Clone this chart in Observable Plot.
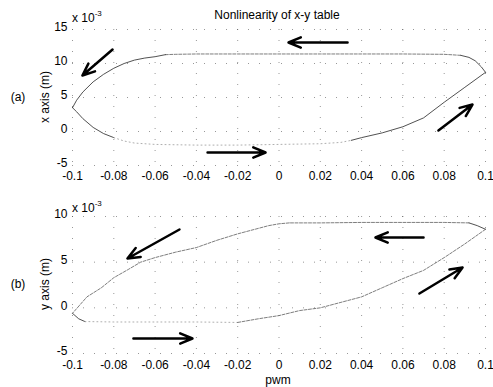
<!DOCTYPE html>
<html><head><meta charset="utf-8">
<script src="https://cdn.jsdelivr.net/npm/d3@7"></script>
<script src="https://cdn.jsdelivr.net/npm/@observablehq/plot@0.6"></script>
<style>
body{margin:0;background:#fff;}
#wrap{position:relative;width:493px;height:387px;overflow:hidden;font-family:"Liberation Sans",Arial,sans-serif;}
#wrap svg{position:absolute;left:0;}
</style></head><body><div id="wrap"></div>
<script>
// ---- ticks ----
const xTicks = [-0.1,-0.08,-0.06,-0.04,-0.02,0,0.02,0.04,0.06,0.08,0.1];
const xTickLabels = ["-0.1","-0.08","-0.06","-0.04","-0.02","0","0.02","0.04","0.06","0.08","0.1"];
const topYTicks = [-5,0,5,10,15];
const botYTicks = [-5,0,5,10];

// ---- panel (a): x axis (units of 1e-3 m) ----
const topUpperRight = [[0.1,8.7],[0.098,9.5],[0.095,10.4],[0.092,10.9],[0.088,11.2]];
const topUpperFlat  = [[0.088,11.2],[0.08,11.35],[0.06,11.4],[0.04,11.4],[0.02,11.4],[0,11.4],[-0.02,11.4],[-0.04,11.4],[-0.05,11.35],[-0.055,11.3]];
const topUpperLeft  = [[-0.055,11.3],[-0.06,11.0],[-0.065,10.8],[-0.07,10.5],[-0.075,10.0],[-0.08,9.3],[-0.085,8.4],[-0.09,7.3],[-0.095,5.8],[-0.098,4.6],[-0.1,3.5]];
const topLowerLeft  = [[-0.1,3.5],[-0.098,2.9],[-0.095,1.9],[-0.09,0.6],[-0.085,-0.3],[-0.08,-0.9]];
const topLowerMid   = [[-0.08,-0.9],[-0.075,-1.4],[-0.07,-1.7],[-0.06,-1.9],[-0.04,-2.0],[-0.02,-2.0],[0,-1.9],[0.02,-1.8],[0.03,-1.6],[0.035,-1.3]];
const topLowerRight = [[0.035,-1.3],[0.04,-0.9],[0.05,-0.2],[0.06,0.7],[0.07,2.0],[0.08,4.3],[0.09,6.5],[0.1,8.7]];
const topArrows = [
  [-0.0806,12.06,-0.0952,8.24],
  [0.0332,13.09,0.0046,13.09],
  [-0.0346,-3.09,-0.0065,-3.09],
  [0.0772,0.15,0.0937,3.97]
];

// ---- panel (b): y axis (units of 1e-3 m) ----
const botUpperRight = [[0.1,8.6],[0.096,9.0],[0.092,9.3]];
const botUpperFlat  = [[0.092,9.3],[0.08,9.35],[0.06,9.35],[0.04,9.35],[0.02,9.3],[0.005,9.3]];
const botUpperLeft  = [[0.005,9.3],[0,9.2],[-0.005,9.0],[-0.01,8.7],[-0.02,8.1],[-0.03,7.4],[-0.04,6.6],[-0.05,6.1],[-0.06,5.5],[-0.067,5.0],[-0.073,4.2],[-0.08,3.3],[-0.086,2.2],[-0.093,1.2],[-0.1,-0.6]];
const botLowerLeft  = [[-0.1,-0.6],[-0.097,-1.2],[-0.094,-1.5]];
const botLowerFlat  = [[-0.094,-1.5],[-0.08,-1.55],[-0.06,-1.55],[-0.04,-1.55],[-0.02,-1.6]];
const botLowerRight = [[-0.02,-1.6],[-0.01,-1.2],[0,-0.85],[0.01,-0.3],[0.02,0.0],[0.03,0.6],[0.04,1.2],[0.05,2.2],[0.06,3.2],[0.07,4.1],[0.08,5.5],[0.09,7.0],[0.1,8.6]];
const botArrows = [
  [-0.0482,8.58,-0.0734,5.40],
  [-0.0705,-3.36,-0.0419,-3.36],
  [0.070,7.70,0.0467,7.70],
  [0.068,1.57,0.0889,4.42]
];

const FONT = '"Liberation Sans", Arial, Helvetica, sans-serif';
const xFmt = d => xTickLabels[xTicks.findIndex(t => Math.abs(t - d) < 1e-9)];

const solid  = {stroke:"#333", strokeWidth:1, strokeOpacity:0.85};
const dashed = {stroke:"#555", strokeWidth:0.9, strokeDasharray:"3,1.5", strokeOpacity:0.85};
const faint  = {stroke:"#999", strokeWidth:0.8, strokeDasharray:"1,3"};

function line(data, style) {
  return Plot.line(data, {x: d => d[0], y: d => d[1], ...style});
}

function panel({height, mt, mb, ydom, yticks, segs, arrows, pad}) {
  return Plot.plot({
    width: 493, height,
    marginLeft: 72, marginRight: 8, marginTop: mt, marginBottom: mb,
    style: {fontFamily: FONT, fontSize: "12px", color: "#000", background: "transparent", overflow: "visible"},
    x: {domain: [-0.1, 0.1]},
    y: {domain: ydom},
    marks: [
      Plot.gridX(xTicks, {stroke: "#444", strokeOpacity: 0.55, strokeDasharray: "1,10"}),
      Plot.gridY(yticks, {stroke: "#444", strokeOpacity: 0.55, strokeDasharray: "1,10"}),
      Plot.axisX(xTicks, {tickSize: 0, tickPadding: pad, tickFormat: xFmt, label: null}),
      Plot.axisY(yticks, {tickSize: 0, tickPadding: 5, dy: -2, tickFormat: d => String(d), label: null}),
      ...segs.map(([data, style]) => line(data, style)),
      Plot.arrow(arrows, {x1: d => d[0], y1: d => d[1], x2: d => d[2], y2: d => d[3],
        stroke: "#000", strokeWidth: 2.5, headLength: 8, headAngle: 45})
    ]
  });
}

const wrap = document.getElementById("wrap");

const topPanel = panel({height: 190, mt: 29, mb: 25, ydom: [-5, 15], yticks: topYTicks, pad: 6,
  segs: [[topUpperRight, solid], [topUpperFlat, dashed], [topUpperLeft, solid],
         [topLowerLeft, solid], [topLowerMid, faint], [topLowerRight, solid]],
  arrows: topArrows});
topPanel.style.top = "0px";
wrap.appendChild(topPanel);

const botPanel = panel({height: 197, mt: 26, mb: 34, ydom: [-5, 10], yticks: botYTicks, pad: 7,
  segs: [[botUpperRight, solid], [botUpperFlat, dashed], [botUpperLeft, dashed],
         [botLowerLeft, solid], [botLowerFlat, faint], [botLowerRight, dashed]],
  arrows: botArrows});
botPanel.style.top = "190px";
wrap.appendChild(botPanel);

// ---- text overlay ----
const svg = d3.select(wrap).append("svg")
  .attr("width", 493).attr("height", 387).style("top", "0px")
  .style("font-family", FONT).style("font-size", "12px");

svg.append("text").attr("x", 277).attr("y", 19).attr("text-anchor", "middle").text("Nonlinearity of x-y table");

function mult(y) {
  const t = svg.append("text").attr("x", 72).attr("y", y);
  t.append("tspan").text("x 10");
  t.append("tspan").attr("dy", -6).attr("font-size", "8px").text("-3");
}
mult(22);
mult(212);

svg.append("text").attr("x", 18).attr("y", 101).attr("text-anchor", "middle").text("(a)");
svg.append("text").attr("x", 18).attr("y", 288).attr("text-anchor", "middle").text("(b)");

svg.append("text").attr("transform", "translate(49,97) rotate(-90)").attr("text-anchor", "middle").text("x axis (m)");
svg.append("text").attr("transform", "translate(49,284) rotate(-90)").attr("text-anchor", "middle").text("y axis (m)");

svg.append("text").attr("x", 278).attr("y", 384).attr("text-anchor", "middle").text("pwm");
</script>
</body></html>
